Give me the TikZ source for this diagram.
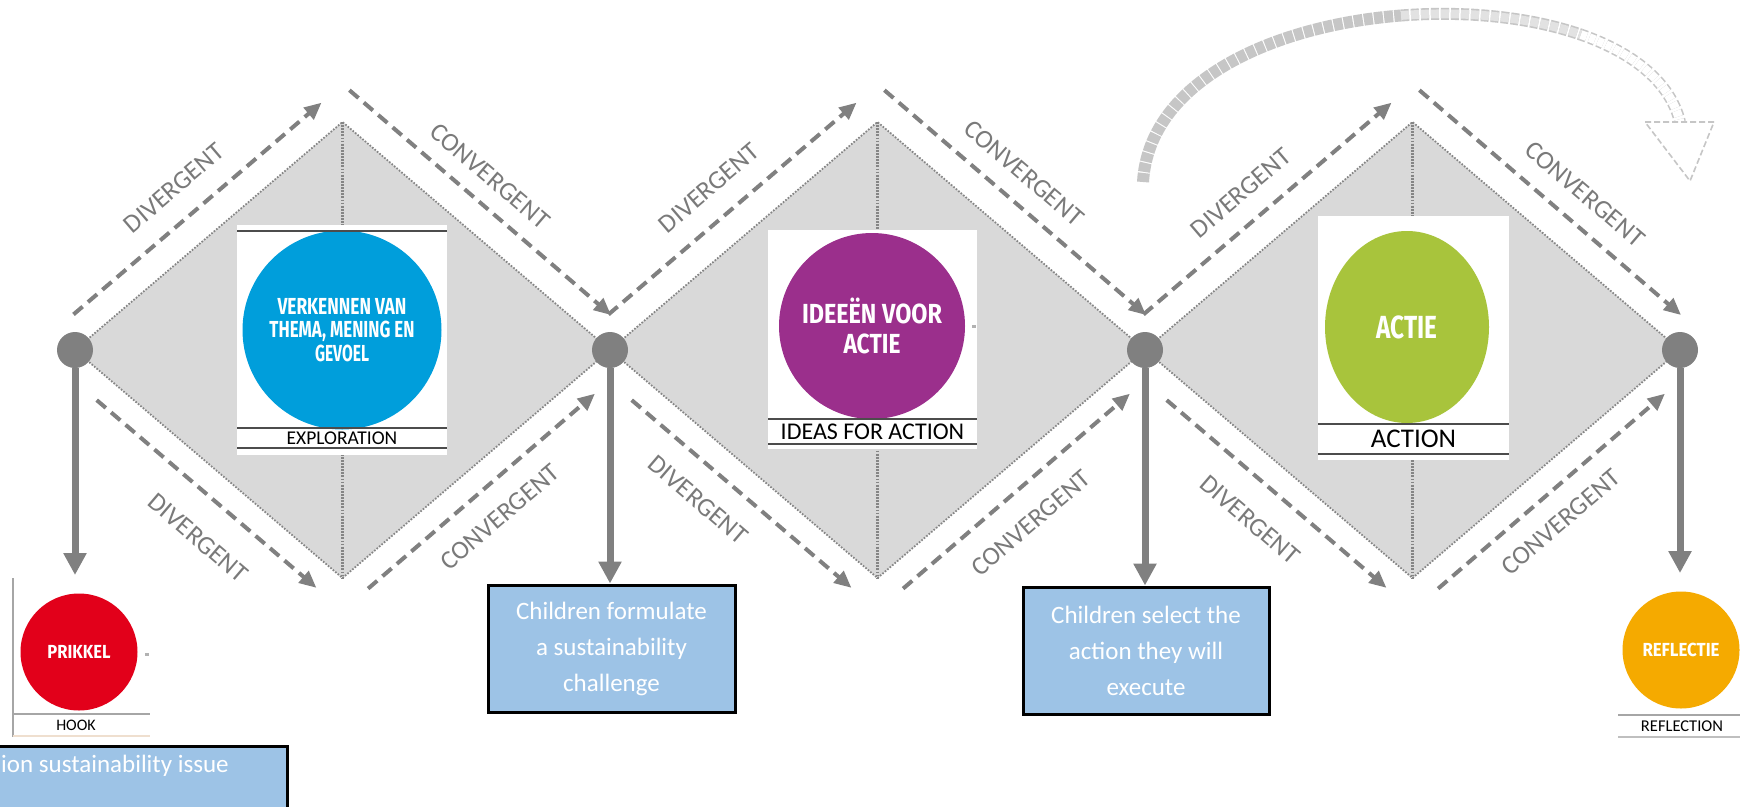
\documentclass[tikz,border=0pt]{standalone}
\usepackage{graphicx}
\usepackage{fontspec}
\setmainfont{Carlito}
\newfontfamily\condf{Fira Sans}
\usetikzlibrary{arrows.meta,calc,shapes.geometric}
\definecolor{dgray}{HTML}{808080}
\definecolor{dfill}{HTML}{D9D9D9}
\definecolor{dedge}{HTML}{858585}
\definecolor{lgray}{HTML}{7A7A7A}
\definecolor{cblue}{HTML}{009EDB}
\definecolor{cpurple}{HTML}{9B2F8C}
\definecolor{cgreen}{HTML}{A8C43C}
\definecolor{cred}{HTML}{E2001A}
\definecolor{corange}{HTML}{F5AA00}
\definecolor{boxblue}{HTML}{9DC3E6}
\definecolor{arcgray}{HTML}{C6C6C6}
\definecolor{arclight}{HTML}{E2E2E2}
\newcommand{\fitw}[2]{\resizebox{#1}{\height}{#2}}
\begin{document}
\begin{tikzpicture}[x=1pt,y=-1pt,
  dot/.style={circle,fill=dgray,minimum size=36pt,inner sep=0pt},
  diam/.style={fill=dfill,draw=dedge,line width=1.8pt,dash pattern=on 1.6pt off 1.6pt},
  midline/.style={draw=dedge,line width=3.4pt,dash pattern=on 1.8pt off 1.3pt},
  flow/.style={draw=dgray,line width=4pt,dash pattern=on 12pt off 7pt,-{Triangle[length=17pt,width=15pt]}},
  vert/.style={draw=dgray,line width=7pt,-{Triangle[length=22pt,width=22pt]}},
  lbl/.style={text=lgray,font=\fontsize{26}{26}\selectfont,inner sep=0pt},
  circ/.style={circle,inner sep=0pt,text=white,align=center},
  whitebox/.style={fill=white,inner sep=0pt},
  boxline/.style={draw=black!70,line width=1.2pt},
  capt/.style={text=black,inner sep=0pt},
  bbox/.style={draw=black,line width=3pt,fill=boxblue,text=white,align=center,inner sep=0pt,font=\fontsize{25}{36}\selectfont},
  arcband/.style={draw=arcgray,line width=12pt,dash pattern=on 9pt off 1.2pt},
  arcmid/.style={draw=arcgray,line width=1.6pt,double=arclight,double distance=8.8pt,dash pattern=on 8pt off 2pt},
  archollow/.style={draw=arcgray,line width=1.6pt,double=white,double distance=8.8pt,dash pattern=on 6pt off 3pt},
  archead/.style={draw=arcgray,line width=1.6pt,fill=white,dash pattern=on 6pt off 3pt}
]
\useasboundingbox (0,0) rectangle (1740,806);
\fill[white] (0,0) rectangle (1740,806);
\begin{scope}
\clip (0,0) rectangle (1740,806);

% diamonds
\foreach \i/\x in {1/75,2/610,3/1145}{
  \coordinate (L\i) at (\x,350);
  \coordinate (T\i) at (\x+267.5,122);
  \coordinate (R\i) at (\x+535,350);
  \coordinate (B\i) at (\x+267.5,578);
  \path[diam] (L\i) -- (T\i) -- (R\i) -- (B\i) -- cycle;
  \draw[midline] (T\i) -- (B\i);
  \begin{scope}[shift={(\x,350)}]
    \coordinate (tls\i) at (-1.5,-35.6);
    \coordinate (tle\i) at (246.5,-247.3);
    \coordinate (trs\i) at (274.4,-259.8);
    \coordinate (tre\i) at (536,-35);
    \coordinate (bls\i) at (21.7,50.1);
    \coordinate (ble\i) at (241.4,237.8);
    \coordinate (brs\i) at (293.1,238.6);
    \coordinate (bre\i) at (519.9,43.7);
  \end{scope}
}

% white picture boxes
\node[whitebox,minimum width=210pt,minimum height=230pt] (box1) at (342,340) {};
\node[whitebox,minimum width=209pt,minimum height=219pt] (box2) at (872.5,339.5) {};
\node[whitebox,minimum width=191pt,minimum height=244pt] (box3) at (1413.5,338) {};

% circles
\node[circ,fill=cblue,minimum size=199pt,font=\condf\bfseries\fontsize{23.2}{23.5}\selectfont] (c1) at (342,330)
  {\fitw{129pt}{VERKENNEN VAN}\\\fitw{145pt}{THEMA, MENING EN}\\\fitw{54pt}{GEVOEL}};
\node[circ,fill=cpurple,minimum size=186pt,font=\condf\bfseries\fontsize{27.6}{30}\selectfont] (c2) at (872,326)
  {\fitw{140pt}{IDEEËN VOOR}\\\fitw{57pt}{ACTIE}};
\node[ellipse,inner sep=0pt,text=white,fill=cgreen,minimum width=164pt,minimum height=192pt,font=\condf\bfseries\fontsize{32}{32}\selectfont] (c3) at (1407,327)
  {\fitw{61pt}{ACTIE}};

% box caption lines
\draw[boxline] (237,231) -- (447,231);
\draw[boxline] (237,428) -- (447,428);
\draw[boxline] (237,448) -- (447,448);
\node[capt,font=\fontsize{19.5}{19.5}\selectfont] (cap1) at (342,438) {EXPLORATION};
\draw[boxline] (768,419) -- (977,419);
\draw[boxline] (768,444) -- (977,444);
\node[capt,font=\fontsize{24}{24}\selectfont] (cap2) at (872.5,431.5) {IDEAS FOR ACTION};
\fill[gray!60] (972,324.5) rectangle (976,328);
\draw[boxline] (1318,424) -- (1509,424);
\draw[boxline] (1318,454) -- (1509,454);
\node[capt,font=\fontsize{27}{27}\selectfont] (cap3) at (1413.5,439) {ACTION};

% dashed flow arrows
\foreach \i in {1,2,3}{
  \draw[flow] (tls\i) -- (tle\i);
  \draw[flow] (trs\i) -- (tre\i);
  \draw[flow] (bls\i) -- (ble\i);
  \draw[flow] (brs\i) -- (bre\i);
}

% labels
\node[lbl,rotate=40.5]  (l1a) at (174,188) {DIVERGENT};
\node[lbl,rotate=-40.5] (l1b) at (490,176) {CONVERGENT};
\node[lbl,rotate=-40.5] (l1c) at (198,538) {DIVERGENT};
\node[lbl,rotate=40.5]  (l1d) at (500,517) {CONVERGENT};
\node[lbl,rotate=40.5]  (l2a) at (709,188) {DIVERGENT};
\node[lbl,rotate=-40.5] (l2b) at (1024,173) {CONVERGENT};
\node[lbl,rotate=-40.5] (l2c) at (698,500) {DIVERGENT};
\node[lbl,rotate=40.5]  (l2d) at (1031,523) {CONVERGENT};
\node[lbl,rotate=40.5]  (l3a) at (1241,193) {DIVERGENT};
\node[lbl,rotate=-40.5] (l3b) at (1585,194) {CONVERGENT};
\node[lbl,rotate=-40.5] (l3c) at (1250,520) {DIVERGENT};
\node[lbl,rotate=40.5]  (l3d) at (1561,522) {CONVERGENT};

% curved feedback arrow
\coordinate (arcS) at (1143,182);
\coordinate (arcM) at (1401,15.5);
\coordinate (arcF) at (1580.9,34.6);
\coordinate (arcE) at (1680,122);
\draw[arcband] (arcS) .. controls (1149,81) and (1273.25,25.5) .. (arcM);
\draw[arcmid] (arcM) .. controls (1464.9,10.5) and (1529.6,16.9) .. (arcF);
\draw[archollow] (arcF) .. controls (1632.2,52.4) and (1670,81.5) .. (arcE);
\coordinate (hd1) at (1645,122);
\coordinate (hd2) at (1714,122);
\coordinate (hd3) at (1690,181);
\draw[archead] (hd1) -- (hd2) -- (hd3) -- cycle;

% bottom: hook
\draw[boxline,draw=gray!70] (13,578) -- (13,737);
\draw[boxline,draw=gray!70] (13,714) -- (150,714);
\draw[boxline,draw=brown!25] (13,736) -- (150,736);
\node[circ,fill=cred,minimum size=117pt,font=\condf\bfseries\fontsize{18.9}{19}\selectfont] (hook) at (79,652) {\fitw{63pt}{PRIKKEL}};
\node[capt,font=\fontsize{16}{16}\selectfont] (hookcap) at (76,725.5) {HOOK};
\fill[gray!60] (145,653) rectangle (149,655.5);

% bottom: reflection
\node[circ,fill=corange,minimum size=117pt,font=\condf\bfseries\fontsize{18.9}{19}\selectfont] (refl) at (1681,650) {\fitw{77pt}{REFLECTIE}};
\draw[boxline,draw=gray!70] (1618,715) -- (1740,715);
\draw[boxline,draw=gray!50] (1618,737) -- (1740,737);
\node[capt,font=\fontsize{16.5}{16.5}\selectfont] (reflcap) at (1682,726) {REFLECTION};

% blue boxes
\node[bbox,minimum width=307pt,minimum height=90pt] (q1) at (133.5,791) {};
\node[text=white,anchor=west,inner sep=0pt,font=\fontsize{25}{25}\selectfont] (q1t) at (1,766) {ion sustainability issue};
\node[bbox,minimum width=247pt,minimum height=127pt] (q2) at (611.5,648.5) {Children formulate\\a sustainability\\challenge};
\node[bbox,minimum width=246pt,minimum height=127pt] (q3) at (1146,650.5) {Children select the\\action they will\\execute};

% dots and vertical arrows
\node[dot] (d1) at (L1) {};
\node[dot] (d2) at (L2) {};
\node[dot] (d3) at (L3) {};
\node[dot] (d4) at (R3) {};
\coordinate (t1) at (75,575);
\coordinate (t4) at (1680,573);
\draw[vert] (d1) -- (t1);
\draw[vert] (d2) -- (d2 |- q2.north);
\draw[vert] (d3) -- (d3 |- q3.north);
\draw[vert] (d4) -- (t4);
\end{scope}
\end{tikzpicture}
\end{document}
